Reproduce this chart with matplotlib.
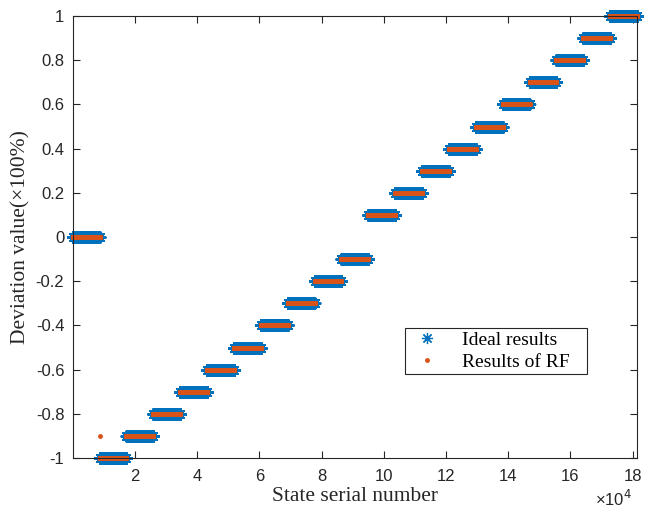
import numpy as np
import matplotlib
matplotlib.use('Agg')
import matplotlib.pyplot as plt

# 21 deviation levels, in the order the states are numbered
levels = [0.0, -1.0, -0.9, -0.8, -0.7, -0.6, -0.5, -0.4, -0.3, -0.2, -0.1,
          0.1, 0.2, 0.3, 0.4, 0.5, 0.6, 0.7, 0.8, 0.9, 1.0]
states_per_level = 8640
# RF misclassifications: (state index, predicted value)
rf_errors_idx = [8750]
rf_errors_val = [-0.9]

ideal = np.repeat(levels, states_per_level)
x = np.arange(1, len(ideal) + 1)
rf = ideal.copy()
rf[np.array(rf_errors_idx) - 1] = rf_errors_val

blue = '#0072BD'
red = '#D95319'
dark = '#262626'

fig = plt.figure(figsize=(6.48, 5.13), dpi=100)
ax = fig.add_axes([72.7 / 648, 1 - 458 / 513, (637 - 72.7) / 648, (458 - 16) / 513])

# MATLAB-like asterisk (+ and x combined)
ax.plot(x, ideal, linestyle='none', marker=(8, 2, 0), color=blue, markersize=8,
        markeredgewidth=0.9, label='Ideal results', clip_on=False)
ax.plot(x, rf, linestyle='none', marker='.', color=red, markersize=5,
        label='Results of RF', clip_on=False)

ax.set_xlim(0, len(ideal))
ax.set_ylim(-1, 1)
xt = np.arange(2, 19, 2) * 1e4
ax.set_xticks(xt)
ax.set_xticklabels(['%d' % (v / 1e4) for v in xt])
yt = np.round(np.arange(-1, 1.01, 0.2), 1)
ax.set_yticks(yt)
ax.set_yticklabels(['%g' % v if v != 0 else '0' for v in yt])

ax.tick_params(direction='in', top=True, right=True, length=5, width=0.8,
               labelsize=12, colors=dark)
ax.tick_params(axis='x', pad=8)
ax.tick_params(axis='y', pad=6)
for lab in ax.get_xticklabels() + ax.get_yticklabels():
    lab.set_fontfamily('Liberation Sans')
for s in ax.spines.values():
    s.set_color(dark)
    s.set_linewidth(0.8)

ax.set_xlabel('State serial number', family='Liberation Serif', fontsize=15.5,
              color=dark, labelpad=2)
ax.set_ylabel('Deviation value(\u00d7100%)', family='Liberation Serif', fontsize=15.5,
              color=dark, labelpad=4)
fig.text(0.975, 0.008, '\u00d710$^{4}$', ha='right', va='bottom', fontsize=12,
         family='Liberation Sans', color=dark)

leg = ax.legend(loc='lower left', bbox_to_anchor=(0.589, 0.19, 0.322, 0.118),
                mode='expand', prop={'family': 'Liberation Serif', 'size': 14},
                fancybox=False, edgecolor=dark, framealpha=1,
                borderpad=0.15, handletextpad=0.8, labelspacing=0.25,
                markerscale=1.0, borderaxespad=0)
leg.get_frame().set_linewidth(0.8)

plt.savefig('out.png', dpi=100)
